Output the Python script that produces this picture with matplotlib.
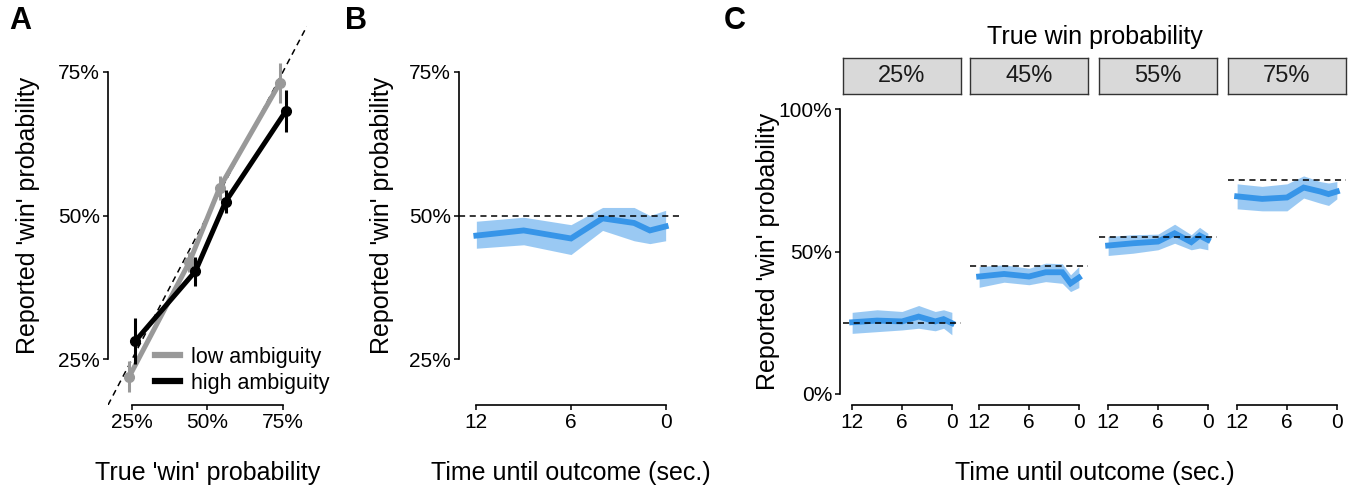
import matplotlib
matplotlib.use("Agg")
import matplotlib.pyplot as plt
from matplotlib.lines import Line2D
from matplotlib.patches import Rectangle

plt.rcParams['font.family'] = ['Liberation Sans', 'DejaVu Sans']

# Panel A : reported vs true probability
true_prob = [25, 45, 55, 75]
low_mean = [21.9, 41.9, 54.8, 73.1]
low_err = [2.7, 1.8, 2.1, 3.5]
high_mean = [28.1, 40.3, 52.4, 68.2]
high_err = [4.0, 2.5, 2.0, 3.7]
prob_ticks = [25, 50, 75]

# Panel B : all trials over time
time_s = [12, 9, 6, 4, 2, 1, 0]
b_true = 50
b_mean = [46.5, 47.4, 46.0, 49.5, 48.7, 47.4, 48.1]
b_lo = [44.3, 44.9, 43.2, 47.4, 45.6, 45.1, 45.6]
b_hi = [49.0, 49.7, 48.4, 51.4, 51.4, 50.0, 50.9]
time_ticks = [12, 6, 0]

# Panel C : per true win probability
c_mean = {
    25: [25.1, 25.7, 25.4, 27.1, 25.4, 26.2, 24.8],
    45: [41.2, 42.1, 41.2, 42.7, 42.7, 38.8, 40.8],
    55: [52.1, 52.9, 53.5, 56.4, 53.3, 55.6, 54.1],
    75: [69.4, 68.5, 69.0, 72.5, 71.1, 70.2, 71.1],
}
c_lo = {
    25: [21.2, 21.8, 22.4, 23.0, 22.1, 23.0, 20.7],
    45: [37.4, 39.2, 38.3, 39.4, 38.8, 35.9, 37.3],
    55: [48.6, 49.4, 50.6, 52.9, 50.6, 51.2, 50.6],
    75: [65.0, 64.3, 64.3, 68.8, 67.0, 66.2, 68.5],
}
c_hi = {
    25: [28.6, 29.5, 28.9, 31.0, 28.9, 29.5, 28.6],
    45: [44.7, 45.3, 44.1, 45.9, 45.7, 41.8, 44.7],
    55: [55.3, 55.9, 56.1, 59.6, 55.9, 58.5, 56.4],
    75: [73.8, 72.9, 73.8, 76.6, 74.6, 74.1, 74.6],
}
c_ticks = [0, 50, 100]

W, H = 1351, 488
BLUE = '#3795e8'
GREY = '#999999'
TICK_FS = 15
LAB_FS = 18

fig = plt.figure(figsize=(W / 100, H / 100), dpi=100)


def px_axes(x0, y0, x1, y1):
    return fig.add_axes([x0 / W, 1 - y1 / H, (x1 - x0) / W, (y1 - y0) / H])


def r_style(ax):
    for s in ['top', 'right']:
        ax.spines[s].set_visible(False)
    for s in ['left', 'bottom']:
        ax.spines[s].set_linewidth(1.2)
    ax.tick_params(length=3.6, width=1.1, labelsize=TICK_FS, pad=2)
    ax.set_facecolor('none')


pct = lambda v: [f"{t}%" for t in v]

# ---------- A ----------
axA = px_axes(108, 26, 307, 405)
r_style(axA)
axA.set_xlim(17, 83)
axA.set_ylim(17, 83)
axA.axline((25, 25), slope=1, color='black', lw=1.1, ls=(0, (4, 3)), zorder=1)
axA.errorbar([p - 1 for p in true_prob], low_mean, yerr=low_err, color=GREY,
             lw=3.6, marker='o', ms=7, elinewidth=2.2, capsize=0, zorder=2)
axA.errorbar([p + 1 for p in true_prob], high_mean, yerr=high_err, color='black',
             lw=3.6, marker='o', ms=7, elinewidth=2.2, capsize=0, zorder=3)
axA.set_xticks(prob_ticks, pct(prob_ticks))
axA.set_yticks(prob_ticks, pct(prob_ticks))
axA.spines['left'].set_bounds(25, 75)
axA.spines['bottom'].set_bounds(25, 75)
axA.set_xlabel("True 'win' probability", fontsize=LAB_FS)
axA.xaxis.set_label_coords(0.5, -0.179)
axA.xaxis.label.set_va('center')
axA.set_ylabel("Reported 'win' probability", fontsize=LAB_FS)
axA.yaxis.set_label_coords(-0.402, 0.5)
axA.yaxis.label.set_va('center')
handles = [Line2D([], [], color=GREY, lw=4.5), Line2D([], [], color='black', lw=4.5)]
axA.legend(handles, ['low ambiguity', 'high ambiguity'], loc='lower left',
           bbox_to_anchor=((155 - 108) / 199, (405 - 394) / 379), frameon=False,
           borderpad=0, borderaxespad=0, handlelength=1.15, handletextpad=0.5,
           labelspacing=0.25, fontsize=15.5)

# ---------- B ----------
axB = px_axes(459, 26, 683, 405)
r_style(axB)
axB.set_xlim(13.1, -1.1)
axB.set_ylim(17, 83)
axB.fill_between(time_s, b_lo, b_hi, color=BLUE, alpha=0.5, lw=0)
axB.plot(time_s, b_mean, color=BLUE, lw=4.2, solid_joinstyle='miter')
axB.axhline(b_true, color='black', lw=1.1, ls=(0, (4, 3)))
axB.set_xticks(time_ticks, [str(t) for t in time_ticks])
axB.set_yticks(prob_ticks, pct(prob_ticks))
axB.spines['left'].set_bounds(25, 75)
axB.spines['bottom'].set_bounds(0, 12)
axB.set_xlabel("Time until outcome (sec.)", fontsize=LAB_FS)
axB.xaxis.set_label_coords(0.5, -0.179)
axB.xaxis.label.set_va('center')
axB.set_ylabel("Reported 'win' probability", fontsize=LAB_FS)
axB.yaxis.set_label_coords(-0.344, 0.5)
axB.yaxis.label.set_va('center')

# ---------- C ----------
lefts = [843, 970, 1099, 1228]
for i, (p, L) in enumerate(zip(true_prob, lefts)):
    ax = px_axes(L, 98, L + 118, 405)
    r_style(ax)
    ax.set_xlim(13.1, -1.1)
    ax.set_ylim(-4, 104)
    ax.fill_between(time_s, c_lo[p], c_hi[p], color=BLUE, alpha=0.5, lw=0)
    ax.plot(time_s, c_mean[p], color=BLUE, lw=4.2, solid_joinstyle='miter')
    ax.axhline(p, color='black', lw=1.1, ls=(0, (4, 3)))
    ax.set_xticks(time_ticks, [str(t) for t in time_ticks])
    ax.spines['bottom'].set_bounds(0, 12)
    if i == 0:
        ax.set_yticks(c_ticks, pct(c_ticks))
        ax.spines['left'].set_bounds(0, 100)
        ax.spines['left'].set_position(('outward', 2))
        ax.set_ylabel("Reported 'win' probability", fontsize=LAB_FS)
        ax.yaxis.set_label_coords(-0.636, 0.5)
        ax.yaxis.label.set_va('center')
    else:
        ax.spines['left'].set_visible(False)
        ax.set_yticks([])
    # strip
    sx = fig.add_axes([L / W, 1 - 94 / H, 118 / W, 36 / H])
    sx.set_xticks([])
    sx.set_yticks([])
    sx.set_facecolor('#d9d9d9')
    for s in sx.spines.values():
        s.set_color('#333333')
        s.set_linewidth(1.0)
    sx.text(0.5, 0.5, f"{p}%", ha='center', va='center', fontsize=17,
            color='#1a1a1a', transform=sx.transAxes)

fig.text(1094.5 / W, 1 - 37 / H, "True win probability", ha='center', va='center',
         fontsize=LAB_FS)
fig.text(1094.5 / W, 1 - 473 / H, "Time until outcome (sec.)", ha='center',
         va='center', fontsize=LAB_FS)

for lab, x in [('A', 9), ('B', 345), ('C', 724)]:
    fig.text(x / W, 1 - 21 / H, lab, ha='left', va='center', fontsize=22,
             fontweight='bold')

fig.savefig('out.png', dpi=100)
